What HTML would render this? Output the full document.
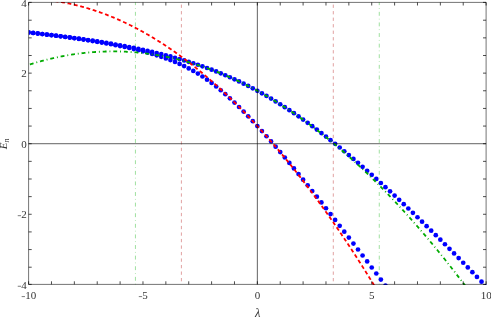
<!DOCTYPE html>
<html><head><meta charset="utf-8"><title>plot</title>
<style>html,body{margin:0;padding:0;background:#fff;overflow:hidden}svg{display:block;font-family:"Liberation Serif",serif}</style>
</head><body>
<svg width="491" height="317" viewBox="0 0 491 317">
<defs><clipPath id="c"><rect x="28.90" y="2.00" width="457.60" height="283.00"/></clipPath></defs>
<rect width="491" height="317" fill="#fff"/>
<path d="M181.40 284.4V2.4" stroke="#b81c1c" stroke-opacity="0.6" stroke-width="0.7" stroke-dasharray="3.3 3.21" stroke-dashoffset="-3.1" fill="none"/>
<path d="M135.43 284.4V2.4" stroke="#00aa00" stroke-opacity="0.55" stroke-width="0.7" stroke-dasharray="0.7 3.0 3.9 3.0" stroke-dashoffset="0.05" fill="none"/>
<path d="M333.30 284.4V2.4" stroke="#b81c1c" stroke-opacity="0.6" stroke-width="0.7" stroke-dasharray="3.3 3.21" stroke-dashoffset="-3.1" fill="none"/>
<path d="M379.27 284.4V2.4" stroke="#00aa00" stroke-opacity="0.55" stroke-width="0.7" stroke-dasharray="0.7 3.0 3.9 3.0" stroke-dashoffset="0.05" fill="none"/>
<g clip-path="url(#c)">
<g fill="#0000ff">
<circle cx="28.60" cy="32.44" r="2.35"/>
<circle cx="33.17" cy="32.95" r="2.35"/>
<circle cx="37.75" cy="33.46" r="2.35"/>
<circle cx="42.32" cy="33.99" r="2.35"/>
<circle cx="46.90" cy="34.53" r="2.35"/>
<circle cx="51.48" cy="35.08" r="2.35"/>
<circle cx="56.05" cy="35.65" r="2.35"/>
<circle cx="60.63" cy="36.23" r="2.35"/>
<circle cx="65.20" cy="36.82" r="2.35"/>
<circle cx="69.78" cy="37.43" r="2.35"/>
<circle cx="74.35" cy="38.05" r="2.35"/>
<circle cx="78.93" cy="38.69" r="2.35"/>
<circle cx="83.50" cy="39.35" r="2.35"/>
<circle cx="88.07" cy="40.02" r="2.35"/>
<circle cx="92.65" cy="40.71" r="2.35"/>
<circle cx="97.22" cy="41.42" r="2.35"/>
<circle cx="101.80" cy="42.16" r="2.35"/>
<circle cx="106.38" cy="42.91" r="2.35"/>
<circle cx="110.95" cy="43.69" r="2.35"/>
<circle cx="115.53" cy="44.49" r="2.35"/>
<circle cx="120.10" cy="45.31" r="2.35"/>
<circle cx="124.68" cy="46.16" r="2.35"/>
<circle cx="129.25" cy="47.04" r="2.35"/>
<circle cx="133.82" cy="47.95" r="2.35"/>
<circle cx="138.40" cy="48.89" r="2.35"/>
<circle cx="142.97" cy="49.86" r="2.35"/>
<circle cx="147.55" cy="50.87" r="2.35"/>
<circle cx="152.12" cy="51.91" r="2.35"/>
<circle cx="156.70" cy="52.99" r="2.35"/>
<circle cx="161.27" cy="54.11" r="2.35"/>
<circle cx="165.85" cy="55.27" r="2.35"/>
<circle cx="170.42" cy="56.47" r="2.35"/>
<circle cx="175.00" cy="57.73" r="2.35"/>
<circle cx="179.57" cy="59.03" r="2.35"/>
<circle cx="184.15" cy="60.38" r="2.35"/>
<circle cx="188.72" cy="61.78" r="2.35"/>
<circle cx="193.30" cy="63.24" r="2.35"/>
<circle cx="197.88" cy="64.76" r="2.35"/>
<circle cx="202.45" cy="66.34" r="2.35"/>
<circle cx="207.03" cy="67.99" r="2.35"/>
<circle cx="211.60" cy="69.69" r="2.35"/>
<circle cx="216.17" cy="71.47" r="2.35"/>
<circle cx="220.75" cy="73.32" r="2.35"/>
<circle cx="225.32" cy="75.23" r="2.35"/>
<circle cx="229.90" cy="77.23" r="2.35"/>
<circle cx="234.47" cy="79.29" r="2.35"/>
<circle cx="239.05" cy="81.43" r="2.35"/>
<circle cx="243.62" cy="83.65" r="2.35"/>
<circle cx="248.20" cy="85.95" r="2.35"/>
<circle cx="252.78" cy="88.33" r="2.35"/>
<circle cx="257.35" cy="90.78" r="2.35"/>
<circle cx="261.93" cy="93.32" r="2.35"/>
<circle cx="266.50" cy="95.93" r="2.35"/>
<circle cx="271.08" cy="98.62" r="2.35"/>
<circle cx="275.65" cy="101.39" r="2.35"/>
<circle cx="280.23" cy="104.24" r="2.35"/>
<circle cx="284.80" cy="107.16" r="2.35"/>
<circle cx="289.38" cy="110.15" r="2.35"/>
<circle cx="293.95" cy="113.22" r="2.35"/>
<circle cx="298.53" cy="116.36" r="2.35"/>
<circle cx="303.10" cy="119.57" r="2.35"/>
<circle cx="307.68" cy="122.85" r="2.35"/>
<circle cx="312.25" cy="126.19" r="2.35"/>
<circle cx="316.83" cy="129.59" r="2.35"/>
<circle cx="321.40" cy="133.06" r="2.35"/>
<circle cx="325.98" cy="136.59" r="2.35"/>
<circle cx="330.55" cy="140.18" r="2.35"/>
<circle cx="335.13" cy="143.82" r="2.35"/>
<circle cx="339.70" cy="147.52" r="2.35"/>
<circle cx="344.28" cy="151.27" r="2.35"/>
<circle cx="348.85" cy="155.08" r="2.35"/>
<circle cx="353.43" cy="158.93" r="2.35"/>
<circle cx="358.00" cy="162.83" r="2.35"/>
<circle cx="362.57" cy="166.78" r="2.35"/>
<circle cx="367.15" cy="170.77" r="2.35"/>
<circle cx="371.73" cy="174.80" r="2.35"/>
<circle cx="376.30" cy="178.88" r="2.35"/>
<circle cx="380.88" cy="183.00" r="2.35"/>
<circle cx="385.45" cy="187.16" r="2.35"/>
<circle cx="390.03" cy="191.35" r="2.35"/>
<circle cx="394.60" cy="195.58" r="2.35"/>
<circle cx="399.18" cy="199.85" r="2.35"/>
<circle cx="403.75" cy="204.15" r="2.35"/>
<circle cx="408.33" cy="208.48" r="2.35"/>
<circle cx="412.90" cy="212.85" r="2.35"/>
<circle cx="417.48" cy="217.25" r="2.35"/>
<circle cx="422.05" cy="221.68" r="2.35"/>
<circle cx="426.62" cy="226.14" r="2.35"/>
<circle cx="431.20" cy="230.63" r="2.35"/>
<circle cx="435.78" cy="235.14" r="2.35"/>
<circle cx="440.35" cy="239.68" r="2.35"/>
<circle cx="444.93" cy="244.25" r="2.35"/>
<circle cx="449.50" cy="248.84" r="2.35"/>
<circle cx="454.08" cy="253.46" r="2.35"/>
<circle cx="458.65" cy="258.11" r="2.35"/>
<circle cx="463.23" cy="262.77" r="2.35"/>
<circle cx="467.80" cy="267.46" r="2.35"/>
<circle cx="472.38" cy="272.17" r="2.35"/>
<circle cx="476.95" cy="276.90" r="2.35"/>
<circle cx="481.53" cy="281.66" r="2.35"/>
<circle cx="486.10" cy="286.43" r="2.35"/>
<circle cx="28.60" cy="32.50" r="2.35"/>
<circle cx="33.17" cy="33.02" r="2.35"/>
<circle cx="37.75" cy="33.54" r="2.35"/>
<circle cx="42.32" cy="34.08" r="2.35"/>
<circle cx="46.90" cy="34.63" r="2.35"/>
<circle cx="51.48" cy="35.19" r="2.35"/>
<circle cx="56.05" cy="35.77" r="2.35"/>
<circle cx="60.63" cy="36.37" r="2.35"/>
<circle cx="65.20" cy="36.98" r="2.35"/>
<circle cx="69.78" cy="37.61" r="2.35"/>
<circle cx="74.35" cy="38.25" r="2.35"/>
<circle cx="78.93" cy="38.92" r="2.35"/>
<circle cx="83.50" cy="39.60" r="2.35"/>
<circle cx="88.07" cy="40.31" r="2.35"/>
<circle cx="92.65" cy="41.04" r="2.35"/>
<circle cx="97.22" cy="41.80" r="2.35"/>
<circle cx="101.80" cy="42.59" r="2.35"/>
<circle cx="106.38" cy="43.40" r="2.35"/>
<circle cx="110.95" cy="44.25" r="2.35"/>
<circle cx="115.53" cy="45.13" r="2.35"/>
<circle cx="120.10" cy="46.05" r="2.35"/>
<circle cx="124.68" cy="47.01" r="2.35"/>
<circle cx="129.25" cy="48.01" r="2.35"/>
<circle cx="133.82" cy="49.07" r="2.35"/>
<circle cx="138.40" cy="50.18" r="2.35"/>
<circle cx="142.97" cy="51.35" r="2.35"/>
<circle cx="147.55" cy="52.59" r="2.35"/>
<circle cx="152.12" cy="53.91" r="2.35"/>
<circle cx="156.70" cy="55.31" r="2.35"/>
<circle cx="161.27" cy="56.80" r="2.35"/>
<circle cx="165.85" cy="58.40" r="2.35"/>
<circle cx="170.42" cy="60.11" r="2.35"/>
<circle cx="175.00" cy="61.96" r="2.35"/>
<circle cx="179.57" cy="63.95" r="2.35"/>
<circle cx="184.15" cy="66.09" r="2.35"/>
<circle cx="188.72" cy="68.41" r="2.35"/>
<circle cx="193.30" cy="70.92" r="2.35"/>
<circle cx="197.88" cy="73.62" r="2.35"/>
<circle cx="202.45" cy="76.52" r="2.35"/>
<circle cx="207.03" cy="79.64" r="2.35"/>
<circle cx="211.60" cy="82.97" r="2.35"/>
<circle cx="216.17" cy="86.50" r="2.35"/>
<circle cx="220.75" cy="90.24" r="2.35"/>
<circle cx="225.32" cy="94.17" r="2.35"/>
<circle cx="229.90" cy="98.28" r="2.35"/>
<circle cx="234.47" cy="102.56" r="2.35"/>
<circle cx="239.05" cy="107.00" r="2.35"/>
<circle cx="243.62" cy="111.58" r="2.35"/>
<circle cx="248.20" cy="116.30" r="2.35"/>
<circle cx="252.78" cy="121.13" r="2.35"/>
<circle cx="257.35" cy="126.07" r="2.35"/>
<circle cx="261.93" cy="131.10" r="2.35"/>
<circle cx="266.50" cy="136.23" r="2.35"/>
<circle cx="271.08" cy="141.44" r="2.35"/>
<circle cx="275.65" cy="146.72" r="2.35"/>
<circle cx="280.23" cy="152.07" r="2.35"/>
<circle cx="284.80" cy="157.48" r="2.35"/>
<circle cx="289.38" cy="162.94" r="2.35"/>
<circle cx="293.95" cy="168.46" r="2.35"/>
<circle cx="298.53" cy="174.03" r="2.35"/>
<circle cx="303.10" cy="179.64" r="2.35"/>
<circle cx="307.68" cy="185.29" r="2.35"/>
<circle cx="312.25" cy="190.98" r="2.35"/>
<circle cx="316.83" cy="196.70" r="2.35"/>
<circle cx="321.40" cy="202.46" r="2.35"/>
<circle cx="325.98" cy="208.25" r="2.35"/>
<circle cx="330.55" cy="214.07" r="2.35"/>
<circle cx="335.13" cy="219.91" r="2.35"/>
<circle cx="339.70" cy="225.78" r="2.35"/>
<circle cx="344.28" cy="231.68" r="2.35"/>
<circle cx="348.85" cy="237.59" r="2.35"/>
<circle cx="353.43" cy="243.53" r="2.35"/>
<circle cx="358.00" cy="249.50" r="2.35"/>
<circle cx="362.57" cy="255.48" r="2.35"/>
<circle cx="367.15" cy="261.47" r="2.35"/>
<circle cx="371.73" cy="267.49" r="2.35"/>
<circle cx="376.30" cy="273.52" r="2.35"/>
<circle cx="380.88" cy="279.57" r="2.35"/>
<circle cx="385.45" cy="285.64" r="2.35"/>
<circle cx="390.03" cy="291.72" r="2.35"/>
</g>
<path d="M28.60 -1.11L29.17 -1.10L29.74 -1.08L30.32 -1.07L30.89 -1.05L31.46 -1.03L32.03 -1.01L32.60 -0.99L33.17 -0.96L33.75 -0.94L34.32 -0.91L34.89 -0.88L35.46 -0.85L36.03 -0.82L36.61 -0.79L37.18 -0.75L37.75 -0.72L38.32 -0.68L38.89 -0.64L39.47 -0.60L40.04 -0.56L40.61 -0.52L41.18 -0.47L41.75 -0.43L42.32 -0.38L42.90 -0.33L43.47 -0.28L44.04 -0.22L44.61 -0.17L45.18 -0.11L45.76 -0.06L46.33 0.00L46.90 0.06L47.47 0.12L48.04 0.19L48.62 0.25L49.19 0.32L49.76 0.39L50.33 0.46L50.90 0.53L51.48 0.60L52.05 0.67L52.62 0.75L53.19 0.83L53.76 0.91L54.33 0.99L54.91 1.07L55.48 1.15L56.05 1.24L56.62 1.32L57.19 1.41L57.77 1.50L58.34 1.59L58.91 1.68L59.48 1.78L60.05 1.87L60.63 1.97L61.20 2.07L61.77 2.17L62.34 2.27L62.91 2.37L63.48 2.48L64.06 2.58L64.63 2.69L65.20 2.80L65.77 2.91L66.34 3.02L66.92 3.14L67.49 3.25L68.06 3.37L68.63 3.49L69.20 3.61L69.78 3.73L70.35 3.85L70.92 3.98L71.49 4.10L72.06 4.23L72.63 4.36L73.21 4.49L73.78 4.62L74.35 4.75L74.92 4.89L75.49 5.03L76.07 5.16L76.64 5.30L77.21 5.45L77.78 5.59L78.35 5.73L78.93 5.88L79.50 6.03L80.07 6.18L80.64 6.33L81.21 6.48L81.78 6.63L82.36 6.79L82.93 6.94L83.50 7.10L84.07 7.26L84.64 7.42L85.22 7.59L85.79 7.75L86.36 7.92L86.93 8.08L87.50 8.25L88.07 8.42L88.65 8.59L89.22 8.77L89.79 8.94L90.36 9.12L90.93 9.30L91.51 9.48L92.08 9.66L92.65 9.84L93.22 10.02L93.79 10.21L94.37 10.40L94.94 10.59L95.51 10.78L96.08 10.97L96.65 11.16L97.22 11.36L97.80 11.55L98.37 11.75L98.94 11.95L99.51 12.15L100.08 12.35L100.66 12.56L101.23 12.76L101.80 12.97L102.37 13.18L102.94 13.39L103.52 13.60L104.09 13.81L104.66 14.03L105.23 14.24L105.80 14.46L106.38 14.68L106.95 14.90L107.52 15.12L108.09 15.35L108.66 15.57L109.23 15.80L109.81 16.03L110.38 16.26L110.95 16.49L111.52 16.72L112.09 16.96L112.67 17.19L113.24 17.43L113.81 17.67L114.38 17.91L114.95 18.15L115.53 18.40L116.10 18.64L116.67 18.89L117.24 19.14L117.81 19.39L118.38 19.64L118.96 19.89L119.53 20.15L120.10 20.40L120.67 20.66L121.24 20.92L121.82 21.18L122.39 21.44L122.96 21.71L123.53 21.97L124.10 22.24L124.68 22.51L125.25 22.78L125.82 23.05L126.39 23.32L126.96 23.59L127.53 23.87L128.11 24.15L128.68 24.43L129.25 24.71L129.82 24.99L130.39 25.27L130.97 25.56L131.54 25.84L132.11 26.13L132.68 26.42L133.25 26.71L133.83 27.01L134.40 27.30L134.97 27.60L135.54 27.89L136.11 28.19L136.68 28.49L137.26 28.79L137.83 29.10L138.40 29.40L138.97 29.71L139.54 30.02L140.12 30.33L140.69 30.64L141.26 30.95L141.83 31.27L142.40 31.58L142.97 31.90L143.55 32.22L144.12 32.54L144.69 32.86L145.26 33.18L145.83 33.51L146.41 33.83L146.98 34.16L147.55 34.49L148.12 34.82L148.69 35.15L149.27 35.49L149.84 35.82L150.41 36.16L150.98 36.50L151.55 36.84L152.12 37.18L152.70 37.52L153.27 37.87L153.84 38.21L154.41 38.56L154.98 38.91L155.56 39.26L156.13 39.61L156.70 39.97L157.27 40.32L157.84 40.68L158.42 41.04L158.99 41.40L159.56 41.76L160.13 42.12L160.70 42.49L161.28 42.85L161.85 43.22L162.42 43.59L162.99 43.96L163.56 44.33L164.13 44.71L164.71 45.08L165.28 45.46L165.85 45.84L166.42 46.22L166.99 46.60L167.57 46.98L168.14 47.37L168.71 47.75L169.28 48.14L169.85 48.53L170.42 48.92L171.00 49.31L171.57 49.71L172.14 50.10L172.71 50.50L173.28 50.90L173.86 51.30L174.43 51.70L175.00 52.10L175.57 52.50L176.14 52.91L176.72 53.32L177.29 53.73L177.86 54.14L178.43 54.55L179.00 54.96L179.57 55.38L180.15 55.79L180.72 56.21L181.29 56.63L181.86 57.05L182.43 57.48L183.01 57.90L183.58 58.33L184.15 58.75L184.72 59.18L185.29 59.61L185.87 60.04L186.44 60.48L187.01 60.91L187.58 61.35L188.15 61.79L188.72 62.23L189.30 62.67L189.87 63.11L190.44 63.55L191.01 64.00L191.58 64.45L192.16 64.90L192.73 65.35L193.30 65.80L193.87 66.25L194.44 66.71L195.02 67.16L195.59 67.62L196.16 68.08L196.73 68.54L197.30 69.00L197.88 69.47L198.45 69.93L199.02 70.40L199.59 70.87L200.16 71.34L200.73 71.81L201.31 72.28L201.88 72.76L202.45 73.23L203.02 73.71L203.59 74.19L204.17 74.67L204.74 75.15L205.31 75.64L205.88 76.12L206.45 76.61L207.03 77.10L207.60 77.59L208.17 78.08L208.74 78.57L209.31 79.07L209.88 79.56L210.46 80.06L211.03 80.56L211.60 81.06L212.17 81.56L212.74 82.07L213.32 82.57L213.89 83.08L214.46 83.59L215.03 84.10L215.60 84.61L216.18 85.12L216.75 85.63L217.32 86.15L217.89 86.67L218.46 87.19L219.03 87.71L219.61 88.23L220.18 88.75L220.75 89.28L221.32 89.81L221.89 90.33L222.47 90.86L223.04 91.39L223.61 91.93L224.18 92.46L224.75 93.00L225.32 93.53L225.90 94.07L226.47 94.61L227.04 95.16L227.61 95.70L228.18 96.24L228.76 96.79L229.33 97.34L229.90 97.89L230.47 98.44L231.04 98.99L231.62 99.55L232.19 100.10L232.76 100.66L233.33 101.22L233.90 101.78L234.47 102.34L235.05 102.90L235.62 103.47L236.19 104.04L236.76 104.60L237.33 105.17L237.91 105.74L238.48 106.32L239.05 106.89L239.62 107.47L240.19 108.04L240.77 108.62L241.34 109.20L241.91 109.78L242.48 110.37L243.05 110.95L243.62 111.54L244.20 112.13L244.77 112.71L245.34 113.31L245.91 113.90L246.48 114.49L247.06 115.09L247.63 115.68L248.20 116.28L248.77 116.88L249.34 117.48L249.92 118.09L250.49 118.69L251.06 119.30L251.63 119.91L252.20 120.52L252.78 121.13L253.35 121.74L253.92 122.35L254.49 122.97L255.06 123.58L255.63 124.20L256.21 124.82L256.78 125.44L257.35 126.07L257.92 126.69L258.49 127.32L259.07 127.95L259.64 128.57L260.21 129.21L260.78 129.84L261.35 130.47L261.93 131.11L262.50 131.74L263.07 132.38L263.64 133.02L264.21 133.66L264.78 134.31L265.36 134.95L265.93 135.60L266.50 136.24L267.07 136.89L267.64 137.54L268.22 138.19L268.79 138.85L269.36 139.50L269.93 140.16L270.50 140.82L271.08 141.48L271.65 142.14L272.22 142.80L272.79 143.47L273.36 144.13L273.93 144.80L274.51 145.47L275.08 146.14L275.65 146.81L276.22 147.48L276.79 148.16L277.37 148.84L277.94 149.51L278.51 150.19L279.08 150.87L279.65 151.56L280.23 152.24L280.80 152.93L281.37 153.61L281.94 154.30L282.51 154.99L283.08 155.68L283.66 156.38L284.23 157.07L284.80 157.77L285.37 158.47L285.94 159.17L286.52 159.87L287.09 160.57L287.66 161.27L288.23 161.98L288.80 162.69L289.38 163.40L289.95 164.11L290.52 164.82L291.09 165.53L291.66 166.25L292.23 166.96L292.81 167.68L293.38 168.40L293.95 169.12L294.52 169.84L295.09 170.57L295.67 171.29L296.24 172.02L296.81 172.75L297.38 173.48L297.95 174.21L298.53 174.94L299.10 175.68L299.67 176.41L300.24 177.15L300.81 177.89L301.38 178.63L301.96 179.37L302.53 180.12L303.10 180.86L303.67 181.61L304.24 182.36L304.82 183.11L305.39 183.86L305.96 184.61L306.53 185.37L307.10 186.12L307.68 186.88L308.25 187.64L308.82 188.40L309.39 189.16L309.96 189.92L310.53 190.69L311.11 191.46L311.68 192.22L312.25 192.99L312.82 193.77L313.39 194.54L313.97 195.31L314.54 196.09L315.11 196.87L315.68 197.64L316.25 198.43L316.83 199.21L317.40 199.99L317.97 200.78L318.54 201.56L319.11 202.35L319.68 203.14L320.26 203.93L320.83 204.72L321.40 205.52L321.97 206.31L322.54 207.11L323.12 207.91L323.69 208.71L324.26 209.51L324.83 210.32L325.40 211.12L325.98 211.93L326.55 212.74L327.12 213.55L327.69 214.36L328.26 215.17L328.83 215.98L329.41 216.80L329.98 217.62L330.55 218.43L331.12 219.25L331.69 220.08L332.27 220.90L332.84 221.72L333.41 222.55L333.98 223.38L334.55 224.21L335.13 225.04L335.70 225.87L336.27 226.71L336.84 227.54L337.41 228.38L337.98 229.22L338.56 230.06L339.13 230.90L339.70 231.74L340.27 232.59L340.84 233.43L341.42 234.28L341.99 235.13L342.56 235.98L343.13 236.83L343.70 237.69L344.28 238.54L344.85 239.40L345.42 240.26L345.99 241.12L346.56 241.98L347.13 242.84L347.71 243.71L348.28 244.57L348.85 245.44L349.42 246.31L349.99 247.18L350.57 248.05L351.14 248.93L351.71 249.80L352.28 250.68L352.85 251.56L353.43 252.44L354.00 253.32L354.57 254.20L355.14 255.09L355.71 255.97L356.28 256.86L356.86 257.75L357.43 258.64L358.00 259.53L358.57 260.42L359.14 261.32L359.72 262.22L360.29 263.11L360.86 264.01L361.43 264.92L362.00 265.82L362.58 266.72L363.15 267.63L363.72 268.54L364.29 269.45L364.86 270.36L365.43 271.27L366.01 272.18L366.58 273.10L367.15 274.01L367.72 274.93L368.29 275.85L368.87 276.77L369.44 277.69L370.01 278.62L370.58 279.54L371.15 280.47L371.73 281.40L372.30 282.33L372.87 283.26L373.44 284.20L374.01 285.13L374.58 286.07L375.16 287.01L375.73 287.94L376.30 288.89L376.87 289.83L377.44 290.77L378.02 291.72L378.59 292.67L379.16 293.61L379.73 294.56L380.30 295.52L380.88 296.47L381.45 297.42L382.02 298.38L382.59 299.34L383.16 300.30L383.73 301.26L384.31 302.22L384.88 303.19L385.45 304.15L386.02 305.12L386.59 306.09L387.17 307.06L387.74 308.03L388.31 309.00L388.88 309.98L389.45 310.95L390.03 311.93L390.60 312.91L391.17 313.89L391.74 314.87L392.31 315.86L392.88 316.84L393.46 317.83L394.03 318.82L394.60 319.81L395.17 320.80L395.74 321.79L396.32 322.79L396.89 323.78L397.46 324.78L398.03 325.78L398.60 326.78L399.18 327.78L399.75 328.79L400.32 329.79L400.89 330.80L401.46 331.81L402.03 332.82L402.61 333.83L403.18 334.84L403.75 335.85L404.32 336.87L404.89 337.89L405.47 338.91L406.04 339.93L406.61 340.95L407.18 341.97L407.75 343.00L408.33 344.02L408.90 345.05L409.47 346.08L410.04 347.11L410.61 348.15L411.18 349.18L411.76 350.22L412.33 351.25L412.90 352.29L413.47 353.33L414.04 354.38L414.62 355.42L415.19 356.46L415.76 357.51L416.33 358.56L416.90 359.61L417.48 360.66L418.05 361.71L418.62 362.77L419.19 363.82L419.76 364.88L420.33 365.94L420.91 367.00L421.48 368.06L422.05 369.12L422.62 370.19L423.19 371.25L423.77 372.32L424.34 373.39L424.91 374.46L425.48 375.54L426.05 376.61L426.63 377.69L427.20 378.76L427.77 379.84L428.34 380.92L428.91 382.00L429.48 383.09L430.06 384.17L430.63 385.26L431.20 386.35L431.77 387.43L432.34 388.53L432.92 389.62L433.49 390.71L434.06 391.81L434.63 392.90L435.20 394.00L435.78 395.10L436.35 396.20L436.92 397.31L437.49 398.41L438.06 399.52L438.63 400.63L439.21 401.74L439.78 402.85L440.35 403.96L440.92 405.07L441.49 406.19L442.07 407.30L442.64 408.42L443.21 409.54L443.78 410.66L444.35 411.79L444.93 412.91L445.50 414.04L446.07 415.17L446.64 416.29L447.21 417.43L447.78 418.56L448.36 419.69L448.93 420.83L449.50 421.96L450.07 423.10L450.64 424.24L451.22 425.38L451.79 426.53L452.36 427.67L452.93 428.82L453.50 429.96L454.08 431.11L454.65 432.26L455.22 433.42L455.79 434.57L456.36 435.72L456.93 436.88L457.51 438.04L458.08 439.20L458.65 440.36L459.22 441.52L459.79 442.69L460.37 443.85L460.94 445.02L461.51 446.19L462.08 447.36L462.65 448.53L463.23 449.70L463.80 450.88L464.37 452.06L464.94 453.23L465.51 454.41L466.08 455.59L466.66 456.78L467.23 457.96L467.80 459.15L468.37 460.33L468.94 461.52L469.52 462.71L470.09 463.91L470.66 465.10L471.23 466.29L471.80 467.49L472.38 468.69L472.95 469.89L473.52 471.09L474.09 472.29L474.66 473.49L475.23 474.70L475.81 475.91L476.38 477.12L476.95 478.33L477.52 479.54L478.09 480.75L478.67 481.97L479.24 483.18L479.81 484.40L480.38 485.62L480.95 486.84L481.53 488.06L482.10 489.29L482.67 490.51L483.24 491.74L483.81 492.97L484.38 494.20L484.96 495.43L485.53 496.66L486.10 497.90" stroke="#ff0000" stroke-width="1.8" stroke-dasharray="3.8 2.72" stroke-dashoffset="-0.1" fill="none"/>
<path d="M28.60 64.85L29.17 64.66L29.74 64.48L30.32 64.30L30.89 64.13L31.46 63.95L32.03 63.77L32.60 63.60L33.17 63.43L33.75 63.26L34.32 63.09L34.89 62.92L35.46 62.75L36.03 62.58L36.61 62.42L37.18 62.25L37.75 62.09L38.32 61.93L38.89 61.77L39.47 61.61L40.04 61.45L40.61 61.29L41.18 61.14L41.75 60.98L42.32 60.83L42.90 60.68L43.47 60.53L44.04 60.38L44.61 60.23L45.18 60.08L45.76 59.94L46.33 59.79L46.90 59.65L47.47 59.51L48.04 59.36L48.62 59.23L49.19 59.09L49.76 58.95L50.33 58.81L50.90 58.68L51.48 58.55L52.05 58.41L52.62 58.28L53.19 58.15L53.76 58.02L54.33 57.90L54.91 57.77L55.48 57.65L56.05 57.52L56.62 57.40L57.19 57.28L57.77 57.16L58.34 57.04L58.91 56.92L59.48 56.81L60.05 56.69L60.63 56.58L61.20 56.47L61.77 56.36L62.34 56.25L62.91 56.14L63.48 56.03L64.06 55.92L64.63 55.82L65.20 55.71L65.77 55.61L66.34 55.51L66.92 55.41L67.49 55.31L68.06 55.21L68.63 55.12L69.20 55.02L69.78 54.93L70.35 54.84L70.92 54.75L71.49 54.65L72.06 54.57L72.63 54.48L73.21 54.39L73.78 54.31L74.35 54.22L74.92 54.14L75.49 54.06L76.07 53.98L76.64 53.90L77.21 53.82L77.78 53.74L78.35 53.67L78.93 53.60L79.50 53.52L80.07 53.45L80.64 53.38L81.21 53.31L81.78 53.24L82.36 53.18L82.93 53.11L83.50 53.05L84.07 52.98L84.64 52.92L85.22 52.86L85.79 52.80L86.36 52.74L86.93 52.69L87.50 52.63L88.07 52.58L88.65 52.52L89.22 52.47L89.79 52.42L90.36 52.37L90.93 52.32L91.51 52.28L92.08 52.23L92.65 52.19L93.22 52.14L93.79 52.10L94.37 52.06L94.94 52.02L95.51 51.98L96.08 51.95L96.65 51.91L97.22 51.88L97.80 51.84L98.37 51.81L98.94 51.78L99.51 51.75L100.08 51.72L100.66 51.69L101.23 51.67L101.80 51.64L102.37 51.62L102.94 51.60L103.52 51.58L104.09 51.56L104.66 51.54L105.23 51.52L105.80 51.50L106.38 51.49L106.95 51.48L107.52 51.46L108.09 51.45L108.66 51.44L109.23 51.43L109.81 51.43L110.38 51.42L110.95 51.42L111.52 51.41L112.09 51.41L112.67 51.41L113.24 51.41L113.81 51.41L114.38 51.41L114.95 51.42L115.53 51.42L116.10 51.43L116.67 51.43L117.24 51.44L117.81 51.45L118.38 51.46L118.96 51.48L119.53 51.49L120.10 51.50L120.67 51.52L121.24 51.54L121.82 51.56L122.39 51.58L122.96 51.60L123.53 51.62L124.10 51.64L124.68 51.67L125.25 51.69L125.82 51.72L126.39 51.75L126.96 51.78L127.53 51.81L128.11 51.84L128.68 51.88L129.25 51.91L129.82 51.95L130.39 51.98L130.97 52.02L131.54 52.06L132.11 52.10L132.68 52.14L133.25 52.19L133.83 52.23L134.40 52.28L134.97 52.32L135.54 52.37L136.11 52.42L136.68 52.47L137.26 52.52L137.83 52.58L138.40 52.63L138.97 52.69L139.54 52.74L140.12 52.80L140.69 52.86L141.26 52.92L141.83 52.98L142.40 53.05L142.97 53.11L143.55 53.18L144.12 53.24L144.69 53.31L145.26 53.38L145.83 53.45L146.41 53.52L146.98 53.59L147.55 53.67L148.12 53.74L148.69 53.82L149.27 53.90L149.84 53.98L150.41 54.06L150.98 54.14L151.55 54.22L152.12 54.31L152.70 54.39L153.27 54.48L153.84 54.57L154.41 54.65L154.98 54.74L155.56 54.84L156.13 54.93L156.70 55.02L157.27 55.12L157.84 55.21L158.42 55.31L158.99 55.41L159.56 55.51L160.13 55.61L160.70 55.71L161.28 55.82L161.85 55.92L162.42 56.03L162.99 56.14L163.56 56.25L164.13 56.36L164.71 56.47L165.28 56.58L165.85 56.69L166.42 56.81L166.99 56.92L167.57 57.04L168.14 57.16L168.71 57.28L169.28 57.40L169.85 57.52L170.42 57.65L171.00 57.77L171.57 57.90L172.14 58.02L172.71 58.15L173.28 58.28L173.86 58.41L174.43 58.54L175.00 58.68L175.57 58.81L176.14 58.95L176.72 59.09L177.29 59.22L177.86 59.36L178.43 59.50L179.00 59.65L179.57 59.79L180.15 59.93L180.72 60.08L181.29 60.23L181.86 60.38L182.43 60.52L183.01 60.68L183.58 60.83L184.15 60.98L184.72 61.14L185.29 61.29L185.87 61.45L186.44 61.61L187.01 61.76L187.58 61.93L188.15 62.09L188.72 62.25L189.30 62.41L189.87 62.58L190.44 62.75L191.01 62.91L191.58 63.08L192.16 63.25L192.73 63.43L193.30 63.60L193.87 63.77L194.44 63.95L195.02 64.13L195.59 64.30L196.16 64.48L196.73 64.66L197.30 64.84L197.88 65.03L198.45 65.21L199.02 65.40L199.59 65.58L200.16 65.77L200.73 65.96L201.31 66.15L201.88 66.34L202.45 66.53L203.02 66.73L203.59 66.92L204.17 67.12L204.74 67.32L205.31 67.52L205.88 67.72L206.45 67.92L207.03 68.12L207.60 68.32L208.17 68.53L208.74 68.73L209.31 68.94L209.88 69.15L210.46 69.36L211.03 69.57L211.60 69.78L212.17 70.00L212.74 70.21L213.32 70.43L213.89 70.65L214.46 70.87L215.03 71.09L215.60 71.31L216.18 71.53L216.75 71.75L217.32 71.98L217.89 72.20L218.46 72.43L219.03 72.66L219.61 72.89L220.18 73.12L220.75 73.35L221.32 73.59L221.89 73.82L222.47 74.06L223.04 74.29L223.61 74.53L224.18 74.77L224.75 75.01L225.32 75.25L225.90 75.50L226.47 75.74L227.04 75.99L227.61 76.23L228.18 76.48L228.76 76.73L229.33 76.98L229.90 77.24L230.47 77.49L231.04 77.74L231.62 78.00L232.19 78.26L232.76 78.51L233.33 78.77L233.90 79.03L234.47 79.30L235.05 79.56L235.62 79.82L236.19 80.09L236.76 80.36L237.33 80.62L237.91 80.89L238.48 81.16L239.05 81.43L239.62 81.71L240.19 81.98L240.77 82.26L241.34 82.53L241.91 82.81L242.48 83.09L243.05 83.37L243.62 83.65L244.20 83.94L244.77 84.22L245.34 84.51L245.91 84.79L246.48 85.08L247.06 85.37L247.63 85.66L248.20 85.95L248.77 86.24L249.34 86.54L249.92 86.83L250.49 87.13L251.06 87.43L251.63 87.73L252.20 88.03L252.78 88.33L253.35 88.63L253.92 88.93L254.49 89.24L255.06 89.54L255.63 89.85L256.21 90.16L256.78 90.47L257.35 90.78L257.92 91.09L258.49 91.41L259.07 91.72L259.64 92.04L260.21 92.36L260.78 92.68L261.35 93.00L261.93 93.32L262.50 93.64L263.07 93.96L263.64 94.29L264.21 94.61L264.78 94.94L265.36 95.27L265.93 95.60L266.50 95.93L267.07 96.26L267.64 96.60L268.22 96.93L268.79 97.27L269.36 97.60L269.93 97.94L270.50 98.28L271.08 98.62L271.65 98.97L272.22 99.31L272.79 99.65L273.36 100.00L273.93 100.35L274.51 100.69L275.08 101.04L275.65 101.40L276.22 101.75L276.79 102.10L277.37 102.45L277.94 102.81L278.51 103.17L279.08 103.53L279.65 103.89L280.23 104.25L280.80 104.61L281.37 104.97L281.94 105.34L282.51 105.70L283.08 106.07L283.66 106.44L284.23 106.81L284.80 107.18L285.37 107.55L285.94 107.92L286.52 108.29L287.09 108.67L287.66 109.05L288.23 109.42L288.80 109.80L289.38 110.18L289.95 110.57L290.52 110.95L291.09 111.33L291.66 111.72L292.23 112.11L292.81 112.49L293.38 112.88L293.95 113.27L294.52 113.66L295.09 114.06L295.67 114.45L296.24 114.85L296.81 115.24L297.38 115.64L297.95 116.04L298.53 116.44L299.10 116.84L299.67 117.24L300.24 117.65L300.81 118.05L301.38 118.46L301.96 118.87L302.53 119.28L303.10 119.69L303.67 120.10L304.24 120.51L304.82 120.92L305.39 121.34L305.96 121.75L306.53 122.17L307.10 122.59L307.68 123.01L308.25 123.43L308.82 123.85L309.39 124.28L309.96 124.70L310.53 125.13L311.11 125.56L311.68 125.98L312.25 126.41L312.82 126.85L313.39 127.28L313.97 127.71L314.54 128.15L315.11 128.58L315.68 129.02L316.25 129.46L316.83 129.90L317.40 130.34L317.97 130.78L318.54 131.22L319.11 131.67L319.68 132.11L320.26 132.56L320.83 133.01L321.40 133.46L321.97 133.91L322.54 134.36L323.12 134.82L323.69 135.27L324.26 135.73L324.83 136.18L325.40 136.64L325.98 137.10L326.55 137.56L327.12 138.02L327.69 138.49L328.26 138.95L328.83 139.42L329.41 139.88L329.98 140.35L330.55 140.82L331.12 141.29L331.69 141.76L332.27 142.24L332.84 142.71L333.41 143.19L333.98 143.66L334.55 144.14L335.13 144.62L335.70 145.10L336.27 145.58L336.84 146.07L337.41 146.55L337.98 147.04L338.56 147.52L339.13 148.01L339.70 148.50L340.27 148.99L340.84 149.48L341.42 149.97L341.99 150.47L342.56 150.96L343.13 151.46L343.70 151.96L344.28 152.46L344.85 152.96L345.42 153.46L345.99 153.96L346.56 154.47L347.13 154.97L347.71 155.48L348.28 155.98L348.85 156.49L349.42 157.00L349.99 157.51L350.57 158.03L351.14 158.54L351.71 159.06L352.28 159.57L352.85 160.09L353.43 160.61L354.00 161.13L354.57 161.65L355.14 162.17L355.71 162.70L356.28 163.22L356.86 163.75L357.43 164.27L358.00 164.80L358.57 165.33L359.14 165.86L359.72 166.40L360.29 166.93L360.86 167.47L361.43 168.00L362.00 168.54L362.58 169.08L363.15 169.62L363.72 170.16L364.29 170.70L364.86 171.24L365.43 171.79L366.01 172.33L366.58 172.88L367.15 173.43L367.72 173.98L368.29 174.53L368.87 175.08L369.44 175.64L370.01 176.19L370.58 176.75L371.15 177.30L371.73 177.86L372.30 178.42L372.87 178.98L373.44 179.54L374.01 180.11L374.58 180.67L375.16 181.24L375.73 181.80L376.30 182.37L376.87 182.94L377.44 183.51L378.02 184.08L378.59 184.66L379.16 185.23L379.73 185.81L380.30 186.38L380.88 186.96L381.45 187.54L382.02 188.12L382.59 188.70L383.16 189.29L383.73 189.87L384.31 190.46L384.88 191.04L385.45 191.63L386.02 192.22L386.59 192.81L387.17 193.40L387.74 194.00L388.31 194.59L388.88 195.18L389.45 195.78L390.03 196.38L390.60 196.98L391.17 197.58L391.74 198.18L392.31 198.78L392.88 199.39L393.46 199.99L394.03 200.60L394.60 201.21L395.17 201.82L395.74 202.43L396.32 203.04L396.89 203.65L397.46 204.26L398.03 204.88L398.60 205.49L399.18 206.11L399.75 206.73L400.32 207.35L400.89 207.97L401.46 208.60L402.03 209.22L402.61 209.84L403.18 210.47L403.75 211.10L404.32 211.73L404.89 212.36L405.47 212.99L406.04 213.62L406.61 214.25L407.18 214.89L407.75 215.52L408.33 216.16L408.90 216.80L409.47 217.44L410.04 218.08L410.61 218.72L411.18 219.37L411.76 220.01L412.33 220.66L412.90 221.31L413.47 221.95L414.04 222.60L414.62 223.25L415.19 223.91L415.76 224.56L416.33 225.21L416.90 225.87L417.48 226.53L418.05 227.19L418.62 227.85L419.19 228.51L419.76 229.17L420.33 229.83L420.91 230.50L421.48 231.16L422.05 231.83L422.62 232.50L423.19 233.17L423.77 233.84L424.34 234.51L424.91 235.18L425.48 235.86L426.05 236.53L426.63 237.21L427.20 237.89L427.77 238.57L428.34 239.25L428.91 239.93L429.48 240.61L430.06 241.30L430.63 241.98L431.20 242.67L431.77 243.36L432.34 244.05L432.92 244.74L433.49 245.43L434.06 246.12L434.63 246.82L435.20 247.51L435.78 248.21L436.35 248.90L436.92 249.60L437.49 250.30L438.06 251.01L438.63 251.71L439.21 252.41L439.78 253.12L440.35 253.82L440.92 254.53L441.49 255.24L442.07 255.95L442.64 256.66L443.21 257.38L443.78 258.09L444.35 258.80L444.93 259.52L445.50 260.24L446.07 260.96L446.64 261.68L447.21 262.40L447.78 263.12L448.36 263.85L448.93 264.57L449.50 265.30L450.07 266.02L450.64 266.75L451.22 267.48L451.79 268.21L452.36 268.95L452.93 269.68L453.50 270.42L454.08 271.15L454.65 271.89L455.22 272.63L455.79 273.37L456.36 274.11L456.93 274.85L457.51 275.59L458.08 276.34L458.65 277.09L459.22 277.83L459.79 278.58L460.37 279.33L460.94 280.08L461.51 280.83L462.08 281.59L462.65 282.34L463.23 283.10L463.80 283.86L464.37 284.61L464.94 285.37L465.51 286.13L466.08 286.90L466.66 287.66L467.23 288.42L467.80 289.19L468.37 289.96L468.94 290.73L469.52 291.49L470.09 292.27L470.66 293.04L471.23 293.81L471.80 294.59L472.38 295.36L472.95 296.14L473.52 296.92L474.09 297.70L474.66 298.48L475.23 299.26L475.81 300.04L476.38 300.83L476.95 301.61L477.52 302.40L478.09 303.19L478.67 303.98L479.24 304.77L479.81 305.56L480.38 306.35L480.95 307.14L481.53 307.94L482.10 308.74L482.67 309.53L483.24 310.33L483.81 311.13L484.38 311.94L484.96 312.74L485.53 313.54L486.10 314.35" stroke="#00aa00" stroke-width="1.8" stroke-dasharray="3.9 2.9 0.9 2.9" stroke-dashoffset="-1.3" fill="none"/>
</g>
<g stroke="#000" stroke-width="0.62" fill="none">
<path d="M257.35 2.4V284.4M28.6 143.71H486.1"/>
</g>
<path d="M28.6 2.4H486.1V284.4H28.6Z" stroke="#000" stroke-width="0.55" fill="none"/>
<path d="M28.60 284.4v-3.1M28.60 2.4v3.1M51.48 284.4v-3.1M51.48 2.4v3.1M74.35 284.4v-3.1M74.35 2.4v3.1M97.22 284.4v-3.1M97.22 2.4v3.1M120.10 284.4v-3.1M120.10 2.4v3.1M142.97 284.4v-3.1M142.97 2.4v3.1M165.85 284.4v-3.1M165.85 2.4v3.1M188.72 284.4v-3.1M188.72 2.4v3.1M211.60 284.4v-3.1M211.60 2.4v3.1M234.47 284.4v-3.1M234.47 2.4v3.1M257.35 284.4v-3.1M257.35 2.4v3.1M280.23 284.4v-3.1M280.23 2.4v3.1M303.10 284.4v-3.1M303.10 2.4v3.1M325.98 284.4v-3.1M325.98 2.4v3.1M348.85 284.4v-3.1M348.85 2.4v3.1M371.73 284.4v-3.1M371.73 2.4v3.1M394.60 284.4v-3.1M394.60 2.4v3.1M417.48 284.4v-3.1M417.48 2.4v3.1M440.35 284.4v-3.1M440.35 2.4v3.1M463.23 284.4v-3.1M463.23 2.4v3.1M486.10 284.4v-3.1M486.10 2.4v3.1M28.6 284.40h3.1M486.1 284.40h-3.1M28.6 267.21h3.1M486.1 267.21h-3.1M28.6 249.57h3.1M486.1 249.57h-3.1M28.6 231.92h3.1M486.1 231.92h-3.1M28.6 214.28h3.1M486.1 214.28h-3.1M28.6 196.64h3.1M486.1 196.64h-3.1M28.6 179.00h3.1M486.1 179.00h-3.1M28.6 161.35h3.1M486.1 161.35h-3.1M28.6 143.71h3.1M486.1 143.71h-3.1M28.6 126.07h3.1M486.1 126.07h-3.1M28.6 108.43h3.1M486.1 108.43h-3.1M28.6 90.78h3.1M486.1 90.78h-3.1M28.6 73.14h3.1M486.1 73.14h-3.1M28.6 55.50h3.1M486.1 55.50h-3.1M28.6 37.86h3.1M486.1 37.86h-3.1M28.6 20.21h3.1M486.1 20.21h-3.1M28.6 2.40h3.1M486.1 2.40h-3.1" stroke="#000" stroke-width="0.7" fill="none"/>
<g font-family="Liberation Serif, serif" font-size="11" fill="#333" opacity="0.99" style="will-change:transform">
<text x="25.18" y="299.4">10</text>
<text x="142.30" y="299.4">5</text>
<text x="254.70" y="299.4">0</text>
<text x="369.08" y="299.4">5</text>
<text x="480.70" y="299.4">10</text>
<text x="26.8" y="6.77" text-anchor="end">4</text>
<text x="26.8" y="77.34" text-anchor="end">2</text>
<text x="26.8" y="147.91" text-anchor="end">0</text>
<text x="26.8" y="218.48" text-anchor="end">2</text>
<text x="26.8" y="289.05" text-anchor="end">4</text>
<path d="M21.67 296.6h3.3M138.79 296.6h3.3M17.74 215.68h3.3M17.74 286.25h3.3" stroke="#333" stroke-width="0.65" fill="none"/>
<text x="257.8" y="316.6" text-anchor="middle" font-style="italic" font-size="12.5">λ</text>
<text transform="translate(6.5 149.2) rotate(-90)" font-style="italic">E<tspan font-size="8" dy="2.2">n</tspan></text>
</g>
</svg>
</body></html>
